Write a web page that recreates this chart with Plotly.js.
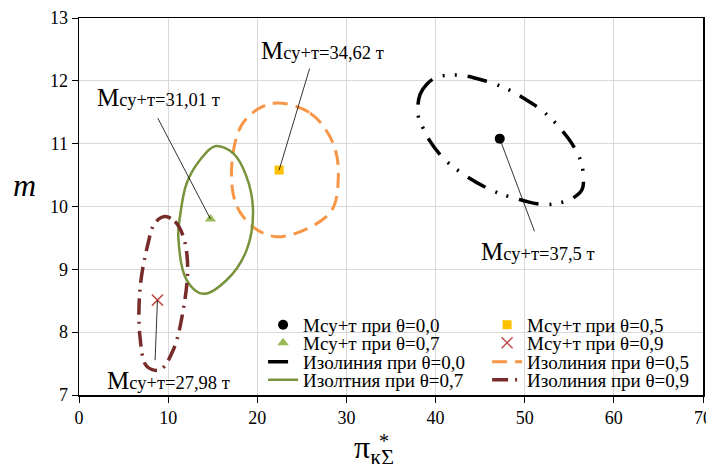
<!DOCTYPE html>
<html><head><meta charset="utf-8">
<script src="https://cdn.plot.ly/plotly-3.0.1.min.js"></script>
<style>html,body{margin:0;padding:0;background:#fff}#c{width:706px;height:464px}</style>
</head><body><div id="c"></div>
<script>
// Centres (Мсу+т points)
const ptLabels = ['Мсу+т при θ=0,0','Мсу+т при θ=0,5','Мсу+т при θ=0,7','Мсу+т при θ=0,9'];
const ptX = [47.2, 22.45, 14.75, 8.8];
const ptY = [11.08, 10.58, 9.80, 8.51];
const massText = ['37,5', '34,62', '31,01', '27,98'];

// Isolines
const iso00X = [38.03,38.25,39.04,40.16,42.74,45.32,48.02,50.03,52.28,54.86,56.20,56.54,56.43,55.19,52.50,48.69,46.11,42.85,40.72,39.15,38.59,38.03];
const iso00Y = [11.46,11.78,11.95,12.06,12.09,12.01,11.87,11.71,11.49,11.09,10.76,10.55,10.27,10.12,10.03,10.14,10.27,10.54,10.79,11.09,11.25,11.46];
const iso05X = [21.62,25.91,28.49,29.09,28.16,22.74,19.97,17.72,17.13,18.40,21.62];
const iso05Y = [11.64,11.49,11.01,10.48,9.90,9.52,9.63,10.00,10.64,11.33,11.64];
const iso07X = [15.26,17.28,18.73,19.52,18.81,16.57,13.94,12.08,11.14,11.33,12.08,13.57,15.26];
const iso07Y = [10.96,10.85,10.50,9.95,9.31,8.83,8.61,8.83,9.52,9.84,10.37,10.74,10.96];
const iso09X = [9.65,10.77,11.70,12.19,11.70,10.58,9.09,7.59,6.84,6.84,7.66,8.53,9.65];
const iso09Y = [9.84,9.76,9.52,9.05,8.36,7.72,7.40,7.46,7.93,8.68,9.36,9.74,9.84];
const isoLabels = ['Изолиния при θ=0,0','Изолиния при θ=0,5','Изолтния при θ=0,7','Изолиния при θ=0,9'];

// Annotation label positions (data units) and leader-line tails
const lblX = [51.44, 27.26, 8.92, 10.04];
const lblY = [9.28, 12.49, 11.73, 7.23];
const tailX = [51.16, 25.92, 8.75, 8.53];
const tailY = [9.58, 12.22, 11.43, 7.53];

const xTicks = [0,10,20,30,40,50,60,70];
const yTicks = [7,8,9,10,11,12,13];

const F = '"Times New Roman", "Liberation Serif", "DejaVu Serif", serif';

const traces = [
 {x: iso00X, y: iso00Y, mode:'lines', name: isoLabels[0], legend:'legend5',
  line:{color:'#000000', width:3.5, dash:'20px,11px,2px,10px,2px,11px', shape:'spline'}},
 {x: iso05X, y: iso05Y, mode:'lines', name: isoLabels[1], legend:'legend6',
  line:{color:'#F79646', width:3, dash:'15px,8px', shape:'spline'}},
 {x: iso07X, y: iso07Y, mode:'lines', name: isoLabels[2], legend:'legend7',
  line:{color:'#77933C', width:2.5, shape:'spline'}},
 {x: iso09X, y: iso09Y, mode:'lines', name: isoLabels[3], legend:'legend8',
  line:{color:'#772C2A', width:3.5, dash:'16px,7px,2px,7px', shape:'spline'}},
 {x:[ptX[0]], y:[ptY[0]], mode:'markers', name: ptLabels[0], legend:'legend',
  marker:{symbol:'circle', size:10, color:'#000000'}},
 {x:[ptX[1]], y:[ptY[1]], mode:'markers', name: ptLabels[1], legend:'legend2',
  marker:{symbol:'square', size:9, color:'#FFC000'}},
 {x:[ptX[2]], y:[ptY[2]], mode:'markers', name: ptLabels[2], legend:'legend3',
  marker:{symbol:'triangle-up', size:10, color:'#9BBB59'}},
 {x:[ptX[3]], y:[ptY[3]], mode:'markers', name: ptLabels[3], legend:'legend4',
  marker:{symbol:'x-thin', size:11, color:'#C0504D', line:{color:'#C0504D', width:1.5}}}
];

const annotations = [];
for (let i = 0; i < 4; i++) {
  annotations.push({x: ptX[i], y: ptY[i], xref:'x', yref:'y', axref:'x', ayref:'y',
    ax: tailX[i], ay: tailY[i], text:'', showarrow:true, arrowhead:0, arrowwidth:0.8,
    arrowcolor:'#000000', standoff:0, startstandoff:0});
  annotations.push({x: lblX[i], y: lblY[i], xref:'x', yref:'y', showarrow:false,
    text:'<span style="font-size:25px">М</span>су+т=' + massText[i] + ' т',
    font:{family:F, size:18.5, color:'#000'}, xanchor:'center', yanchor:'middle'});
}
// Axis titles
annotations.push({xref:'paper', yref:'paper', x:-0.088, y:0.557, showarrow:false,
  text:'<i>m</i>', font:{family:F, size:32, color:'#000'}, xanchor:'center', yanchor:'middle'});
annotations.push({xref:'paper', yref:'paper', x:0.438, y:-0.085, showarrow:false,
  text:'π<sub>кΣ</sub>', font:{family:F, size:32, color:'#000'}, xanchor:'left', yanchor:'top'});
annotations.push({xref:'paper', yref:'paper', x:0.477, y:-0.088, showarrow:false,
  text:'*', font:{family:F, size:20, color:'#000'}, xanchor:'left', yanchor:'top'});

// Legends: 2 columns x 4 rows
const colX = [0.295, 0.654];
const rowY = [0.186, 0.138, 0.088, 0.040];
const legFont = {family:F, size:19, color:'#000'};
function leg(c, r) {
  return {x: colX[c], y: rowY[r], xanchor:'left', yanchor:'middle', bgcolor:'rgba(0,0,0,0)',
    borderwidth:0, font: legFont, orientation:'v', itemsizing:'trace'};
}

const layout = {
  width:706, height:464,
  margin:{l:79, r:3, t:18, b:69},
  paper_bgcolor:'#fff', plot_bgcolor:'#fff',
  font:{family:F, size:18, color:'#000'},
  showlegend:true,
  legend: leg(0,0), legend2: leg(1,0), legend3: leg(0,1), legend4: leg(1,1),
  legend5: leg(0,2), legend6: leg(1,2), legend7: leg(0,3), legend8: leg(1,3),
  xaxis:{range:[0,70], tickvals:xTicks, ticktext:xTicks.map(String), showgrid:true,
    gridcolor:'#D9D9D9', gridwidth:1, zeroline:false, showline:true, linecolor:'#000',
    linewidth:1.5, mirror:true, ticks:'outside', ticklen:6, tickcolor:'#000',
    ticklabeloverflow:'allow', tickfont:{family:F, size:18, color:'#000'}},
  yaxis:{range:[7,13], tickvals:yTicks, ticktext:yTicks.map(String), showgrid:true,
    gridcolor:'#D9D9D9', gridwidth:1, zeroline:false, showline:true, linecolor:'#000',
    linewidth:1.5, mirror:true, ticks:'outside', ticklen:6, tickcolor:'#000',
    tickfont:{family:F, size:18, color:'#000'}},
  annotations: annotations
};

Plotly.newPlot('c', traces, layout, {displayModeBar:false, staticPlot:true});
</script></body></html>
